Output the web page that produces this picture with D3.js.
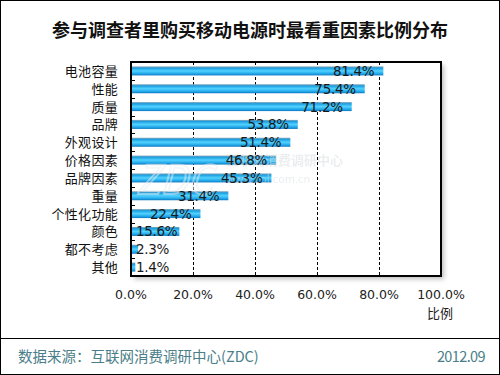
<!DOCTYPE html>
<html>
<head>
<meta charset="utf-8">
<title>参与调查者里购买移动电源时最看重因素比例分布</title>
<style>
  body { margin: 0; background: #fff; }
  svg text { font-family: "Noto Sans CJK SC", sans-serif; }
  .val { font-family: "DejaVu Sans", sans-serif; font-size: 13.5px; fill: #1a1a1a; letter-spacing: -0.3px; }
  .tick-label { font-family: "DejaVu Sans", sans-serif; font-size: 12.5px; fill: #222; }
  .cat { font-size: 13px; fill: #111; letter-spacing: 0.3px; }
</style>
<script src="https://d3js.org/d3.v7.min.js"></script>
</head>
<body>
<svg id="chart" width="500" height="375"></svg>
<script>
var categories = ["电池容量", "性能", "质量", "品牌", "外观设计", "价格因素", "品牌因素", "重量", "个性化功能", "颜色", "都不考虑", "其他"];
var values = [81.4, 75.4, 71.2, 53.8, 51.4, 46.8, 45.3, 31.4, 22.4, 15.6, 2.3, 1.4];
var ticks = [0, 20, 40, 60, 80, 100];

var svg = d3.select("#chart");
var W = 500, H = 375;
var plotL = 131, plotR = 441, plotT = 62, plotB = 276;

var defs = svg.append("defs");
var grad = defs.append("linearGradient").attr("id", "barGrad")
    .attr("x1", 0).attr("y1", 0).attr("x2", 0).attr("y2", 1);
grad.append("stop").attr("offset", "0%").attr("stop-color", "#8aa6b8");
grad.append("stop").attr("offset", "18%").attr("stop-color", "#1c9ee0");
grad.append("stop").attr("offset", "50%").attr("stop-color", "#52d2ff");
grad.append("stop").attr("offset", "80%").attr("stop-color", "#22a8ea");
grad.append("stop").attr("offset", "100%").attr("stop-color", "#0c78c0");

var blur = defs.append("filter").attr("id", "shadow")
    .attr("x", "-10%").attr("y", "-10%").attr("width", "130%").attr("height", "130%");
blur.append("feGaussianBlur").attr("stdDeviation", 2.5);

// outer frame
svg.append("rect").attr("x", 0.5).attr("y", 0.5).attr("width", W - 1).attr("height", H - 1)
    .attr("fill", "#fff").attr("stroke", "#000");

svg.append("text").attr("x", 250).attr("y", 37).attr("text-anchor", "middle")
    .attr("font-size", 18).attr("font-weight", "bold").attr("fill", "#111")
    .text("参与调查者里购买移动电源时最看重因素比例分布");

var x = d3.scaleLinear().domain([0, 100]).range([plotL, plotR]);
var y = d3.scaleBand().domain(categories).range([plotT, plotB]);

// plot shadow
svg.append("rect").attr("x", plotL + 3).attr("y", plotT + 3)
    .attr("width", plotR - plotL).attr("height", plotB - plotT)
    .attr("fill", "#bbb").attr("filter", "url(#shadow)");
svg.append("rect").attr("x", plotL).attr("y", plotT)
    .attr("width", plotR - plotL).attr("height", plotB - plotT).attr("fill", "#fff");

// gridlines
svg.append("g").selectAll("line").data(ticks.slice(1, -1)).join("line")
    .attr("x1", function(d) { return x(d) + 0.5; }).attr("x2", function(d) { return x(d) + 0.5; })
    .attr("y1", plotT).attr("y2", plotB)
    .attr("stroke", "#000").attr("stroke-dasharray", "3,2");

// bars
var barH = 9;
svg.append("g").selectAll("rect").data(values).join("rect")
    .attr("x", plotL)
    .attr("y", function(d, i) { return y(categories[i]) + y.bandwidth() / 2 - barH / 2; })
    .attr("width", function(d) { return x(d) - plotL; })
    .attr("height", barH)
    .attr("fill", "url(#barGrad)");

// watermark
var wm = svg.append("g").attr("opacity", 0.5);
wm.append("text").attr("x", 136).attr("y", 194).attr("font-family", "DejaVu Sans")
    .attr("font-size", 40).attr("font-style", "italic").attr("fill", "none")
    .attr("stroke", "#e8eef2").attr("stroke-width", 2).text("ZDC");
wm.append("text").attr("x", 226).attr("y", 165).attr("font-size", 13)
    .attr("font-weight", "bold").attr("fill", "#d8dde0").text("互联网消费调研中心");
wm.append("text").attr("x", 226).attr("y", 183).attr("font-family", "DejaVu Sans")
    .attr("font-size", 11).attr("fill", "#d8dde0").text("www.zol.com.cn");

// value labels
svg.append("g").selectAll("text").data(values).join("text")
    .attr("class", "val")
    .attr("y", function(d, i) { return y(categories[i]) + y.bandwidth() / 2 + 5; })
    .text(function(d) { return d.toFixed(1) + "%"; })
    .each(function(d) {
        var w = this.getComputedTextLength();
        var xs = Math.max(plotL + 5, x(d) - 9 - w);
        d3.select(this).attr("x", xs);
    });

// frame
svg.append("rect").attr("x", plotL).attr("y", plotT)
    .attr("width", plotR - plotL).attr("height", plotB - plotT)
    .attr("fill", "none").attr("stroke", "#000").attr("stroke-width", 2);

// y axis ticks (inward)
svg.append("g").selectAll("line").data(categories.slice(1)).join("line")
    .attr("x1", plotL).attr("x2", plotL + 4)
    .attr("y1", function(d) { return Math.round(y(d)) + 0.5; })
    .attr("y2", function(d) { return Math.round(y(d)) + 0.5; })
    .attr("stroke", "#000");

// category labels
svg.append("g").selectAll("text").data(categories).join("text")
    .attr("class", "cat")
    .attr("x", 118).attr("text-anchor", "end")
    .attr("y", function(d) { return y(d) + y.bandwidth() / 2 + 5; })
    .text(function(d) { return d; });

// x tick labels
svg.append("g").selectAll("text").data(ticks).join("text")
    .attr("class", "tick-label")
    .attr("x", function(d) { return x(d); }).attr("y", 299)
    .attr("text-anchor", "middle")
    .text(function(d) { return d.toFixed(1) + "%"; });

svg.append("text").attr("x", 440).attr("y", 318).attr("text-anchor", "middle")
    .attr("font-size", 13).attr("fill", "#222").text("比例");

// footer
svg.append("line").attr("x1", 0).attr("x2", W).attr("y1", 338.5).attr("y2", 338.5)
    .attr("stroke", "#000");
svg.append("text").attr("x", 18).attr("y", 362).attr("font-size", 14.5).attr("fill", "#4a7e88")
    .text("数据来源：互联网消费调研中心(ZDC)");
svg.append("text").attr("x", 485).attr("y", 362).attr("text-anchor", "end")
    .attr("font-family", "DejaVu Sans").attr("font-size", 14.5).attr("fill", "#4a7e88")
    .attr("letter-spacing", "-0.6px").text("2012.09");
</script>
</body>
</html>
